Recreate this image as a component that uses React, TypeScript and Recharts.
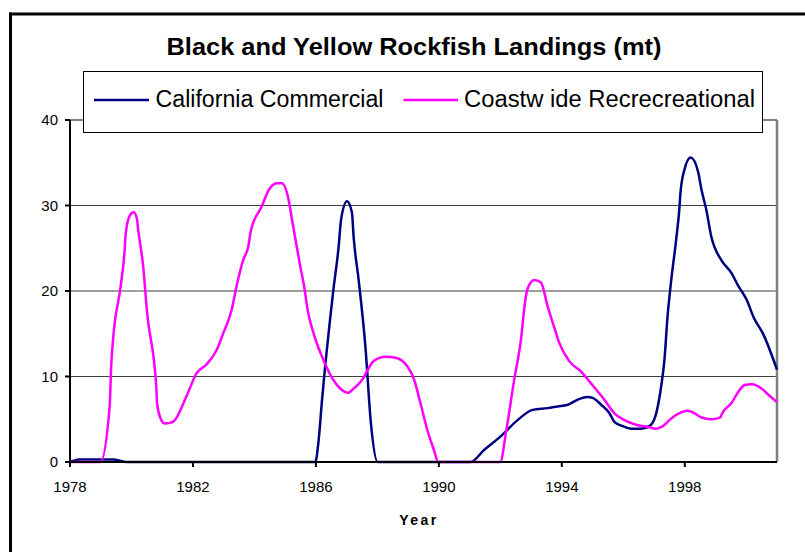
import { LineChart, Line, XAxis, YAxis, CartesianGrid, ReferenceLine } from 'recharts';

// California Commercial (mt)
const commercialYears = [
  1978, 1978.3, 1978.8, 1979.4, 1979.85, 1985.98, 1986.09, 1986.2, 1986.3, 1986.47,
  1986.57, 1986.74, 1986.82, 1987.01, 1987.17, 1987.23, 1987.39, 1987.61, 1987.79, 1988.01,
  1991.03, 1991.47, 1992.01, 1992.56, 1993.05, 1993.54, 1993.86, 1994.19, 1994.52, 1994.84,
  1995.0, 1995.28, 1995.55, 1995.71, 1995.98, 1996.25, 1996.58, 1996.85, 1997.04, 1997.23,
  1997.34, 1997.43, 1997.56, 1997.72, 1997.83, 1997.86, 1997.99, 1998.19, 1998.43, 1998.54,
  1998.7, 1998.86, 1999.19, 1999.52, 1999.74, 2000.01, 2000.23, 2000.56, 2001.0,
];
const commercialValues = [
  0, 0.3, 0.3, 0.3, 0, 0, 2.6, 7.3, 11.2, 17.0,
  20.2, 25.2, 28.4, 30.5, 29.2, 26.2, 21.3, 13.5, 4.5, 0,
  0, 1.4, 3.0, 4.9, 6.1, 6.3, 6.5, 6.7, 7.3, 7.6,
  7.5, 6.7, 5.7, 4.7, 4.2, 3.9, 3.9, 4.2, 5.3, 8.8,
  12.0, 16.6, 21.3, 26.0, 29.9, 31.5, 34.2, 35.6, 34.0, 31.9,
  29.5, 26.4, 23.6, 22.1, 20.6, 19.0, 17.0, 14.9, 10.8,
];

// Coastwide Recreational (mt)
const recYears = [
  1978, 1978.99, 1979.29, 1979.34, 1979.4, 1979.65, 1979.78, 1979.81, 1979.94, 1980.07,
  1980.18, 1980.21, 1980.38, 1980.51, 1980.81, 1980.83, 1980.97, 1981.08, 1981.35, 1981.79,
  1982.12, 1982.44, 1982.77, 1982.99, 1983.26, 1983.42, 1983.64, 1983.8, 1983.88, 1984.24,
  1984.45, 1984.73, 1984.89, 1985.11, 1985.22, 1985.49, 1985.65, 1985.71, 1985.92, 1986.2,
  1986.47, 1986.79, 1987.06, 1987.17, 1987.5, 1987.88, 1988.26, 1988.59, 1988.97, 1989.18,
  1989.4, 1989.62, 1989.84, 1989.98, 1992.0, 1992.18, 1992.45, 1992.67, 1992.8, 1992.88,
  1993.1, 1993.32, 1993.54, 1993.81, 1993.92, 1994.24, 1994.62, 1994.95, 1995.38, 1995.71,
  1996.04, 1996.47, 1996.8, 1997.07, 1997.29, 1997.56, 1997.88, 1998.08, 1998.32, 1998.54,
  1998.86, 1999.14, 1999.25, 1999.52, 1999.74, 1999.95, 2000.17, 2000.5, 2000.71, 2001.0,
];
const recValues = [
  0, 0, 6.5, 11.2, 14.3, 20.6, 24.9, 26.6, 28.8, 29.2,
  28.4, 27.4, 22.9, 17.4, 8.6, 6.9, 4.9, 4.5, 4.7, 7.7,
  10.4, 11.4, 13.1, 15.1, 17.8, 20.6, 23.7, 25.2, 27.0, 29.9,
  31.7, 32.6, 32.6, 30.7, 28.4, 22.9, 19.8, 18.2, 15.1, 12.3,
  10.2, 8.6, 8.1, 8.4, 9.6, 11.8, 12.3, 12.2, 11.2, 9.8,
  6.9, 3.8, 1.4, 0, 0, 3.4, 9.6, 14.3, 18.6, 20.2,
  21.3, 21.0, 18.2, 15.1, 13.9, 11.8, 10.6, 9.2, 7.3, 5.7,
  4.9, 4.3, 4.1, 3.9, 4.2, 5.1, 5.8, 6.0, 5.7, 5.2,
  5.0, 5.2, 5.9, 6.9, 8.2, 9.0, 9.1, 8.6, 7.9, 7.0,
];

const xTicks = [1978, 1982, 1986, 1990, 1994, 1998];
const yTicks = [0, 10, 20, 30, 40];

const commercialData = commercialYears.map((year, i) => ({ year, value: commercialValues[i] }));
const recData = recYears.map((year, i) => ({ year, value: recValues[i] }));

const font = 'Arial, "Liberation Sans", sans-serif';
const NAVY = '#000080';
const MAGENTA = '#FF00FF';

export default function App() {
  return (
    <div style={{ position: 'fixed', left: 0, top: 0, width: 805, height: 552, overflow: 'hidden', background: '#fff' }}>
      <div style={{ position: 'absolute', left: 0, top: 0 }}>
        <LineChart width={805} height={552} margin={{ top: 120, right: 28, left: 0, bottom: 60 }}>
          <CartesianGrid vertical={false} stroke="#404040" strokeWidth={1.2} />
          <XAxis
            dataKey="year"
            type="number"
            domain={[1978, 2001]}
            ticks={xTicks}
            height={30}
            stroke="#000"
            strokeWidth={2}
            tickSize={5}
            tickMargin={14}
            tick={{ fill: '#000', fontSize: 15, fontFamily: font }}
          />
          <YAxis
            type="number"
            domain={[0, 40]}
            ticks={yTicks}
            width={70}
            stroke="#000"
            strokeWidth={2}
            tickSize={5}
            tickMargin={7}
            tick={{ fill: '#000', fontSize: 15, fontFamily: font }}
          />
          <ReferenceLine y={40} stroke="#808080" strokeWidth={2} />
          <ReferenceLine x={2001} stroke="#808080" strokeWidth={2.5} />
          <Line
            data={commercialData}
            dataKey="value"
            name="California Commercial"
            type="monotone"
            stroke={NAVY}
            strokeWidth={2.5}
            dot={false}
            activeDot={false}
            isAnimationActive={false}
          />
          <Line
            data={recData}
            dataKey="value"
            name="Coastwide Recrecreational"
            type="monotone"
            stroke={MAGENTA}
            strokeWidth={2.5}
            dot={false}
            activeDot={false}
            isAnimationActive={false}
          />
        </LineChart>
      </div>
      <svg width={805} height={552} style={{ position: 'absolute', left: 0, top: 0, pointerEvents: 'none' }}>
        {/* outer frame, cut off at right and bottom */}
        <line x1={9} y1={14} x2={805} y2={14} stroke="#000" strokeWidth={3} />
        <line x1={10.5} y1={12.5} x2={10.5} y2={552} stroke="#000" strokeWidth={3} />
        <text
          x={166.5}
          y={55}
          fontFamily={font}
          fontWeight="bold"
          fontSize={24}
          textLength={495}
          lengthAdjust="spacingAndGlyphs"
          fill="#000"
        >
          Black and Yellow Rockfish Landings (mt)
        </text>
        <rect x={83.5} y={71.5} width={679} height={61} fill="#fff" stroke="#000" strokeWidth={1} />
        <line x1={94} y1={100} x2={149} y2={100} stroke={NAVY} strokeWidth={2.5} />
        <text x={155.5} y={107} fontFamily={font} fontSize={23} textLength={228} lengthAdjust="spacingAndGlyphs" fill="#000">
          California Commercial
        </text>
        <line x1={403.5} y1={100} x2={458} y2={100} stroke={MAGENTA} strokeWidth={2.5} />
        <text x={464} y={107} fontFamily={font} fontSize={23} textLength={291} lengthAdjust="spacingAndGlyphs" fill="#000">
          Coastw ide Recrecreational
        </text>
        <text x={419} y={525} textAnchor="middle" fontFamily={font} fontWeight="bold" fontSize={14} letterSpacing={2.5} fill="#000">
          Year
        </text>
      </svg>
    </div>
  );
}
